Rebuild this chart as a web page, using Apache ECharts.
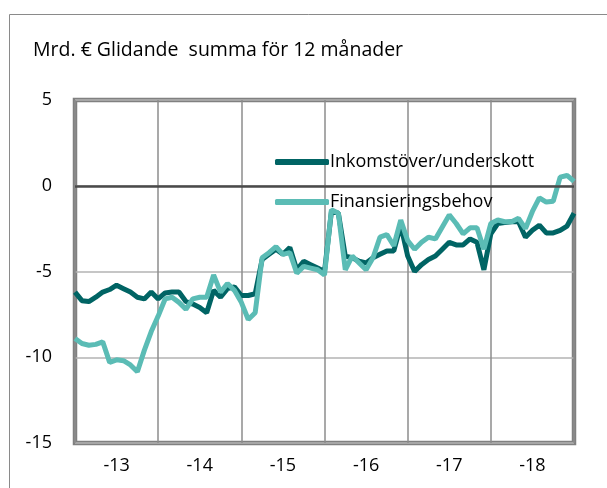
<!DOCTYPE html>
<html>
<head>
    <meta charset="utf-8">
    <title>Glidande summa</title>
    <script src="https://cdn.jsdelivr.net/npm/echarts@6/dist/echarts.min.js"></script>
    <style>
        body { margin: 0; background: #fff; }
        #main { width: 607px; height: 488px; }
    </style>
</head>
<body>
<div id="main"></div>
<script>
    // årsetiketter på x-axeln
    let yearLabels = ['-13', '-14', '-15', '-16', '-17', '-18'];
    let seriesNames = ['Inkomstöver/underskott', 'Finansieringsbehov'];

    // månadsvärden, mrd. €, jan 2013 .. slutet av 2018
    let inkomst = [
        -6.2, -6.7, -6.75, -6.5, -6.2, -6.05, -5.8, -6.0, -6.2, -6.5, -6.6, -6.2,
        -6.6, -6.25, -6.2, -6.2, -6.75, -6.9, -7.1, -7.4, -6.1, -6.5, -6.0, -5.9,
        -6.4, -6.4, -6.3, -4.3, -4.0, -3.7, -4.0, -3.6, -4.9, -4.4, -4.6, -4.8,
        -5.0, -1.5, -1.6, -4.1, -4.2, -4.4, -4.5, -4.2, -4.0, -3.8, -3.8, -2.3,
        -4.1, -5.0, -4.6, -4.3, -4.1, -3.7, -3.3, -3.45, -3.45, -3.1, -3.3, -4.9,
        -2.8, -2.2, -2.15, -2.1, -2.1, -3.0, -2.6, -2.3, -2.75, -2.75, -2.6, -2.35,
        -1.6
    ];
    let finans = [
        -8.9, -9.2, -9.3, -9.25, -9.1, -10.3, -10.15, -10.2, -10.45, -10.85, -9.6, -8.5,
        -7.6, -6.6, -6.5, -6.8, -7.2, -6.6, -6.5, -6.5, -5.2, -6.2, -5.7, -6.1,
        -6.8, -7.8, -7.4, -4.2, -3.9, -3.55, -4.0, -3.9, -5.1, -4.7, -4.8, -4.9,
        -5.2, -1.4, -1.6, -4.9, -4.1, -4.5, -4.9, -4.2, -3.0, -2.85, -3.5, -2.0,
        -3.2, -3.7, -3.3, -3.0, -3.1, -2.4, -1.7, -2.2, -2.8, -2.45, -2.45, -3.7,
        -2.2, -2.0, -2.1, -2.1, -1.9, -2.5, -1.5, -0.7, -0.95, -0.9, 0.5, 0.6,
        0.25
    ];

    let months = [];
    for (let i = 0; i < inkomst.length; i++) {
        months.push(String(i));
    }

    var myChart = echarts.init(document.getElementById('main'));
    var fontName = 'Open Sans';

    myChart.setOption({
        animation: false,
        textStyle: { fontFamily: fontName },
        title: {
            text: 'Mrd. € Glidande  summa för 12 månader',
            left: 28,
            top: 35,
            textStyle: { fontSize: 19.5, fontWeight: 'normal', color: '#000', fontFamily: fontName }
        },
        graphic: [
            {
                type: 'rect',
                shape: { x: 9.5, y: 14.5, width: 700, height: 600 },
                style: { fill: 'none', stroke: '#8a8a8a', lineWidth: 1 },
                silent: true
            }
        ],
        legend: {
            orient: 'vertical',
            left: 270,
            top: 148,
            itemWidth: 54,
            itemHeight: 6,
            itemGap: 22,
            icon: 'roundRect',
            textStyle: { fontSize: 18, color: '#000', fontFamily: fontName, padding: [0, 0, 0, -4] },
            data: seriesNames
        },
        grid: {
            left: 75,
            right: 33,
            top: 100,
            bottom: 45,
            show: true,
            borderColor: '#808080',
            borderWidth: 4.5
        },
        xAxis: {
            type: 'category',
            boundaryGap: false,
            data: months,
            axisLine: { show: false },
            axisTick: { show: false },
            axisLabel: {
                interval: function (index) { return index % 12 === 6; },
                formatter: function (v, index) { return yearLabels[Math.floor(index / 12)]; },
                fontSize: 18,
                color: '#000',
                margin: 14
            },
            splitLine: {
                show: true,
                interval: function (index) { return index % 12 === 0; },
                lineStyle: { color: '#8c8c8c', width: 1.5 }
            }
        },
        yAxis: {
            type: 'value',
            min: -15,
            max: 5,
            interval: 5,
            axisLine: { show: false },
            axisTick: { show: false },
            axisLabel: { fontSize: 18, color: '#000', margin: 23 },
            splitLine: { lineStyle: { color: '#b3b3b3', width: 1.5 } }
        },
        series: [
            {
                name: seriesNames[0],
                type: 'line',
                data: inkomst,
                symbol: 'none',
                color: '#006464',
                lineStyle: { width: 5, color: '#006464' },
                z: 3,
                markLine: {
                    silent: true,
                    symbol: 'none',
                    label: { show: false },
                    lineStyle: { color: '#4a4a4a', width: 2.5, type: 'solid' },
                    data: [{ yAxis: 0 }]
                }
            },
            {
                name: seriesNames[1],
                type: 'line',
                data: finans,
                symbol: 'none',
                color: '#5bbcb5',
                lineStyle: { width: 5, color: '#5bbcb5' },
                z: 4
            }
        ]
    });
</script>
</body>
</html>
